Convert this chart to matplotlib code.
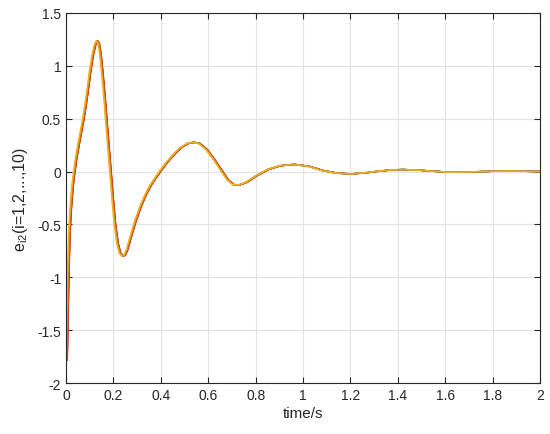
import numpy as np
import matplotlib
matplotlib.use('Agg')
import matplotlib.pyplot as plt

plt.rcParams['font.family'] = ['Liberation Sans', 'DejaVu Sans']
plt.rcParams['mathtext.fontset'] = 'custom'
plt.rcParams['mathtext.rm'] = 'Liberation Sans'
plt.rcParams['mathtext.it'] = 'Liberation Sans'

# error curve (leftmost / yellow trace)
t = [0.000, 0.003, 0.006, 0.009, 0.012, 0.016, 0.020, 0.025, 0.030, 0.040,
     0.050, 0.060, 0.070, 0.080, 0.090, 0.100, 0.110, 0.120, 0.128, 0.135,
     0.142, 0.150, 0.160, 0.167, 0.176, 0.185, 0.194, 0.204, 0.215, 0.225,
     0.236, 0.245, 0.255, 0.270, 0.290, 0.312, 0.333, 0.354, 0.375, 0.397,
     0.420, 0.440, 0.460, 0.481, 0.510, 0.535, 0.560, 0.590, 0.620, 0.650,
     0.680, 0.705, 0.730, 0.760, 0.800, 0.850, 0.900, 0.960, 1.020, 1.080,
     1.140, 1.200, 1.260, 1.320, 1.380, 1.420, 1.480, 1.540, 1.600, 1.650,
     1.720, 1.800, 1.880, 1.950, 2.000]
e = [-1.78, -1.45, -1.10, -0.80, -0.58, -0.40, -0.27, -0.14, -0.04, 0.12,
     0.25, 0.37, 0.49, 0.63, 0.79, 0.96, 1.10, 1.20, 1.235, 1.215,
     1.12, 0.95, 0.70, 0.50, 0.25, 0.00, -0.25, -0.50, -0.68, -0.77,
     -0.80, -0.79, -0.74, -0.62, -0.47, -0.33, -0.22, -0.13, -0.06, 0.01,
     0.08, 0.13, 0.18, 0.225, 0.265, 0.277, 0.265, 0.21, 0.12, 0.02,
     -0.08, -0.125, -0.125, -0.10, -0.04, 0.02, 0.055, 0.068, 0.05, 0.01,
     -0.015, -0.022, -0.012, 0.005, 0.017, 0.019, 0.014, 0.004, -0.004, -0.006,
     -0.002, 0.003, 0.005, 0.002, 0.0]

# small lag of each of the 10 traces relative to the leftmost one (s)
lag = [0.003, 0.006, 0.001, 0.004, 0.003, 0.002, 0.005, 0.003, 0.005, 0.0]

colors = ['#0072BD', '#D95319', '#EDB120', '#7E2F8E', '#77AC30',
          '#4DBEEE', '#A2142F']

fig = plt.figure(figsize=(5.5, 4.35), dpi=100)
ax = fig.add_axes([0.12, 0.117, 0.862, 0.851])

t = np.array(t)
for i, d in enumerate(lag):
    lw = 1.25 if i == len(lag) - 1 else 1.0
    ax.plot(t + d, e, color=colors[i % 7], lw=lw)

ax.set_xlim(0, 2)
ax.set_ylim(-2, 1.5)
ax.set_xticks(np.arange(0, 2.01, 0.2))
ax.set_xticklabels(['0', '0.2', '0.4', '0.6', '0.8', '1', '1.2', '1.4', '1.6', '1.8', '2'])
ax.set_yticks(np.arange(-2, 1.51, 0.5))
ax.set_yticklabels(['-2', '-1.5', '-1', '-0.5', '0', '0.5', '1', '1.5'])
ax.grid(True, color='#e3e3e3', lw=0.8)
ax.set_axisbelow(True)
ax.tick_params(direction='in', top=True, right=True, length=4,
               labelsize=10, colors='#262626', width=0.8)
for s in ax.spines.values():
    s.set_color('#262626')
    s.set_linewidth(0.8)
ax.set_xlabel('time/s', fontsize=11, color='#262626', labelpad=3)
ax.set_ylabel(r'e$_{\mathrm{i2}}$(i=1,2,...,10)', fontsize=11.5, color='#262626', labelpad=5)

fig.savefig('out.png', dpi=100)
